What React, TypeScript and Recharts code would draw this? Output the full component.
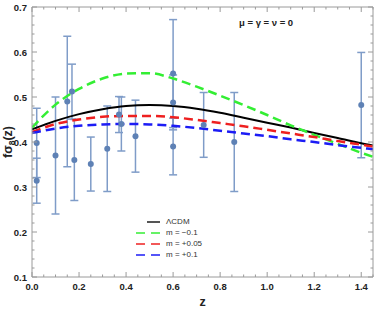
import React from "react";
import { ComposedChart, Line, Scatter, ErrorBar, XAxis, YAxis } from "recharts";

// theory curves, sampled in z
const curveZ = [0, 0.1, 0.2, 0.3, 0.4, 0.5, 0.6, 0.7, 0.8, 0.9, 1.0, 1.1, 1.2, 1.3, 1.4, 1.45];
const lcdm = [0.428, 0.447, 0.462, 0.473, 0.48, 0.482, 0.48, 0.474, 0.465, 0.454, 0.443, 0.432, 0.42, 0.409, 0.397, 0.392];
const mMinus01 = [0.432, 0.483, 0.518, 0.541, 0.552, 0.553, 0.541, 0.523, 0.503, 0.482, 0.46, 0.437, 0.416, 0.396, 0.376, 0.367];
const mPlus005 = [0.422, 0.44, 0.45, 0.456, 0.458, 0.458, 0.455, 0.449, 0.442, 0.435, 0.427, 0.419, 0.411, 0.402, 0.394, 0.39];
const mPlus01 = [0.42, 0.43, 0.436, 0.439, 0.44, 0.439, 0.436, 0.431, 0.425, 0.419, 0.413, 0.406, 0.4, 0.393, 0.387, 0.384];

// observed f sigma8 points
const obsZ = [0.02, 0.02, 0.1, 0.15, 0.17, 0.18, 0.25, 0.32, 0.37, 0.38, 0.44, 0.6, 0.6, 0.6, 0.73, 0.86, 1.4];
const obsF = [0.398, 0.314, 0.37, 0.49, 0.512, 0.36, 0.351, 0.385, 0.461, 0.44, 0.413, 0.552, 0.488, 0.39, 0.438, 0.4, 0.482];
const obsErr = [0.077, 0.05, 0.13, 0.145, 0.061, 0.09, 0.06, 0.095, 0.04, 0.06, 0.08, 0.12, 0.061, 0.063, 0.072, 0.11, 0.117];

const seriesKeys = ["lcdm", "mMinus01", "mPlus005", "mPlus01"];
const legendLabels = ["\u039BCDM", "m = \u22120.1", "m = +0.05", "m = +0.1"];
const xMajor = [0, 0.2, 0.4, 0.6, 0.8, 1.0, 1.2, 1.4];
const yMajor = [0.1, 0.2, 0.3, 0.4, 0.5, 0.6, 0.7];

const curveData = curveZ.map((z, i) => ({
  z,
  lcdm: lcdm[i],
  mMinus01: mMinus01[i],
  mPlus005: mPlus005[i],
  mPlus01: mPlus01[i],
}));
const obsData = obsZ.map((z, i) => ({ z, f: obsF[i], err: obsErr[i] }));

// minor ticks between the labelled ones
const xTicks: number[] = [];
for (let i = 0; i <= 29; i++) xTicks.push(+(i * 0.05).toFixed(2));
const yTicks: number[] = [];
for (let i = 0; i <= 30; i++) yTicks.push(+(0.1 + i * 0.02).toFixed(2));

const FRAME = "#9a9a9a";
const FONT = "'Liberation Sans', Arial, sans-serif";
const styles: Record<string, { stroke: string; width: number; dash?: string }> = {
  lcdm: { stroke: "#000000", width: 2 },
  mMinus01: { stroke: "#33ee33", width: 2.5, dash: "9 5" },
  mPlus005: { stroke: "#ee2020", width: 2.5, dash: "9 5" },
  mPlus01: { stroke: "#1c1cf5", width: 2.5, dash: "9 5" },
};

const isIn = (v: number, list: number[]) => list.some((m) => Math.abs(m - v) < 1e-6);

const BottomTick = (props: any) => {
  const { x, y, payload } = props;
  const major = isIn(payload.value, xMajor);
  return (
    <g>
      <line x1={x} x2={x} y1={y} y2={y - (major ? 5 : 2.5)} stroke={FRAME} />
      {major && (
        <text x={x} y={y + 13} textAnchor="middle" fontSize={9.5} fontWeight="bold" fill="#222" fontFamily={FONT}>
          {payload.value.toFixed(1)}
        </text>
      )}
    </g>
  );
};

const TopTick = (props: any) => {
  const { x, y, payload } = props;
  const major = isIn(payload.value, xMajor);
  return <line x1={x} x2={x} y1={y} y2={y + (major ? 5 : 2.5)} stroke={FRAME} />;
};

const LeftTick = (props: any) => {
  const { x, y, payload } = props;
  const major = isIn(payload.value, yMajor);
  return (
    <g>
      <line x1={x} x2={x + (major ? 5 : 2.5)} y1={y} y2={y} stroke={FRAME} />
      {major && (
        <text x={x - 5} y={y + 3.5} textAnchor="end" fontSize={9.5} fontWeight="bold" fill="#222" fontFamily={FONT}>
          {payload.value.toFixed(1)}
        </text>
      )}
    </g>
  );
};

const RightTick = (props: any) => {
  const { x, y, payload } = props;
  const major = isIn(payload.value, yMajor);
  return <line x1={x} x2={x - (major ? 5 : 2.5)} y1={y} y2={y} stroke={FRAME} />;
};

const YLabel = (props: any) => {
  const vb = props.viewBox || {};
  const cy = vb.y + vb.height / 2;
  return (
    <text
      transform={`translate(12, ${cy}) rotate(-90)`}
      textAnchor="middle"
      fontSize={12.5}
      fontWeight="bold"
      fill="#222"
      fontFamily={FONT}
    >
      <tspan>f{"\u03C3"}</tspan>
      <tspan fontSize={8.5} dy={3}>8</tspan>
      <tspan dy={-3}>(z)</tspan>
    </text>
  );
};

const LegendBox = () => (
  <div style={{ position: "absolute", left: 136, top: 216, fontFamily: FONT, fontSize: 8, color: "#333" }}>
    {seriesKeys.map((k, i) => {
      const s = styles[k];
      return (
        <div key={k} style={{ display: "flex", alignItems: "center", height: 11 }}>
          <svg width={24} height={6} style={{ marginRight: 6 }}>
            <line
              x1={s.dash ? 0 : 11}
              x2={24}
              y1={3}
              y2={3}
              stroke={k === "lcdm" ? "#555" : s.stroke}
              strokeOpacity={k === "lcdm" ? 1 : 0.75}
              strokeWidth={2}
              strokeDasharray={s.dash ? "9 6" : undefined}
            />
          </svg>
          <span>{legendLabels[i]}</span>
        </div>
      );
    })}
  </div>
);

export default function App() {
  return (
    <div style={{ position: "absolute", left: 0, top: 0, width: 374, height: 309, background: "#fff" }}>
      <ComposedChart width={374} height={309} data={curveData} margin={{ top: 6, right: 0, bottom: 2, left: 0 }}>
        <XAxis
          dataKey="z"
          type="number"
          domain={[0, 1.45]}
          ticks={xTicks}
          interval={0}
          allowDataOverflow
          height={30}
          tickSize={0}
          tickMargin={0}
          tickLine={false}
          tick={<BottomTick />}
          axisLine={{ stroke: FRAME }}
          label={{ value: "z", position: "insideBottom", offset: 1, fontSize: 12.5, fontWeight: "bold", fill: "#222", fontFamily: FONT }}
        />
        <XAxis
          xAxisId="top"
          dataKey="z"
          orientation="top"
          type="number"
          domain={[0, 1.45]}
          ticks={xTicks}
          interval={0}
          allowDataOverflow
          height={1}
          tickSize={0}
          tickMargin={0}
          tickLine={false}
          tick={<TopTick />}
          axisLine={{ stroke: FRAME }}
        />
        <YAxis
          type="number"
          domain={[0.1, 0.7]}
          ticks={yTicks}
          interval={0}
          allowDataOverflow
          width={32}
          tickSize={0}
          tickMargin={0}
          tickLine={false}
          tick={<LeftTick />}
          axisLine={{ stroke: FRAME }}
          label={(p: any) => <YLabel {...p} />}
        />
        <YAxis
          yAxisId="right"
          orientation="right"
          type="number"
          domain={[0.1, 0.7]}
          ticks={yTicks}
          interval={0}
          allowDataOverflow
          width={1}
          tickSize={0}
          tickMargin={0}
          tickLine={false}
          tick={<RightTick />}
          axisLine={{ stroke: FRAME }}
        />
        <Scatter
          data={obsData}
          dataKey="f"
          fill="#5e81b5"
          isAnimationActive={false}
          shape={(p: any) => <circle cx={p.cx} cy={p.cy} r={3} fill="#5e81b5" />}
        >
          <ErrorBar dataKey="err" direction="y" width={4} stroke="#7f9cc8" strokeWidth={1.5} />
        </Scatter>
        {seriesKeys.map((k) => (
          <Line
            key={k}
            type="monotone"
            dataKey={k}
            stroke={styles[k].stroke}
            strokeWidth={styles[k].width}
            strokeDasharray={styles[k].dash}
            dot={false}
            isAnimationActive={false}
          />
        ))}
      </ComposedChart>
      <LegendBox />
      <div
        style={{
          position: "absolute",
          left: 239,
          top: 17,
          fontFamily: FONT,
          fontSize: 9.5,
          fontWeight: "bold",
          color: "#222",
          whiteSpace: "nowrap",
        }}
      >
        {"\u03BC = \u03B3 = \u03BD = 0"}
      </div>
    </div>
  );
}
